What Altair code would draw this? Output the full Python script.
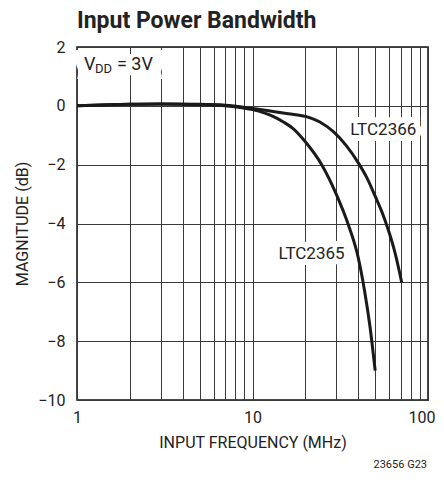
import altair as alt
import pandas as pd

# ---- data ----
f_2366 = [1, 2, 3, 5, 7, 10, 13.1, 16, 20, 24.2, 28.9, 34.4, 40, 44.8, 50, 55, 60, 64.9, 70.8]
db_2366 = [0.0, 0.05, 0.06, 0.05, 0.02, -0.09, -0.19, -0.27, -0.36, -0.55, -0.88, -1.37, -1.93,
           -2.44, -3.07, -3.65, -4.3, -5.0, -6.0]

f_2365 = [1, 2, 3, 5, 7, 10, 13.1, 15, 17.1, 20, 24.8, 30, 35.2, 40, 43.4, 46.7, 50]
db_2365 = [0.0, 0.05, 0.06, 0.04, 0.0, -0.13, -0.36, -0.55, -0.78, -1.22, -2.0, -3.0, -4.05,
           -5.15, -6.25, -7.5, -9.0]

x_grid = [1, 2, 3, 4, 5, 6, 7, 8, 9, 10, 20, 30, 40, 50, 60, 70, 80, 90, 100]
y_ticks = [2, 0, -2, -4, -6, -8, -10]

label_names = ["LTC2366", "LTC2365"]
label_f = [55.6, 21.7]
label_db = [-0.82, -5.03]

vdd_f = [1.096]
vdd_db = [1.21]

FONT = "Roboto, Liberation Sans, sans-serif"

curves = pd.concat([
    pd.DataFrame({"f": f_2366, "db": db_2366, "series": "LTC2366"}),
    pd.DataFrame({"f": f_2365, "db": db_2365, "series": "LTC2365"}),
])
labels = pd.DataFrame({"name": label_names, "f": label_f, "db": label_db})
vdd = pd.DataFrame({"f": vdd_f, "db": vdd_db})

xscale = alt.Scale(type="log", domain=[1, 100])
yscale = alt.Scale(domain=[-10, 2])

label_expr = "(datum.value == 1 || datum.value == 10 || datum.value == 100) ? datum.value : ''"

x_enc = alt.X("f:Q", scale=xscale,
              axis=alt.Axis(values=x_grid, labelExpr=label_expr,
                            title="INPUT FREQUENCY (MHz)", ticks=False, domain=False,
                            grid=True, gridColor="#3a3a3a", gridWidth=1, gridOpacity=1,
                            labelFont=FONT, labelFontSize=16, labelColor="#222",
                            labelPadding=9, titleFont=FONT, titleFontSize=16,
                            titleFontWeight="normal", titleColor="#222", titlePadding=9,
                            labelFlush=False, labelOverlap=False,
                            labelAlign=alt.condition("datum.value >= 100", alt.value("right"),
                                                     alt.value("center")),
                            labelOffset=alt.condition("datum.value >= 100", alt.value(7),
                                                      alt.value(0))))
y_enc = alt.Y("db:Q", scale=yscale,
              axis=alt.Axis(values=y_ticks, format="d", title="MAGNITUDE (dB)",
                            ticks=False, domain=False, grid=True, gridColor="#3a3a3a",
                            gridWidth=1, gridOpacity=1, labelFont=FONT, labelFontSize=16,
                            labelColor="#222", labelPadding=12, titleFont=FONT,
                            titleFontSize=16, titleFontWeight="normal", titleColor="#222",
                            titlePadding=7, labelFlush=False, labelOverlap=False))

lines = alt.Chart(curves).mark_line(color="#1a1a1a", strokeWidth=3, interpolate="monotone").encode(
    x=x_enc, y=y_enc, detail="series:N"
)

halo = alt.Chart(labels).mark_text(font=FONT, fontSize=17, align="center", baseline="middle",
                                   stroke="white", strokeWidth=12, color="white").encode(
    x=alt.X("f:Q", scale=xscale), y=alt.Y("db:Q", scale=yscale), text="name:N"
)
txt = alt.Chart(labels).mark_text(font=FONT, fontSize=17, align="center", baseline="middle",
                                  color="#222").encode(
    x=alt.X("f:Q", scale=xscale), y=alt.Y("db:Q", scale=yscale), text="name:N"
)

vdd_base = alt.Chart(vdd).encode(x=alt.X("f:Q", scale=xscale), y=alt.Y("db:Q", scale=yscale))
vdd_halo = vdd_base.mark_text(font=FONT, fontSize=18, align="left", baseline="alphabetic",
                              stroke="white", strokeWidth=16, color="white", dx=-2, dy=1,
                              text="VDD = 3V  ")
vdd_v = vdd_base.mark_text(font=FONT, fontSize=18, align="left", baseline="alphabetic",
                           color="#222", text="V")
vdd_dd = vdd_base.mark_text(font=FONT, fontSize=13, align="left", baseline="alphabetic",
                            color="#222", text="DD", dx=11, dy=3)
vdd_rest = vdd_base.mark_text(font=FONT, fontSize=18, align="left", baseline="alphabetic",
                              color="#222", text="= 3V", dx=33)

footer = alt.Chart(vdd).mark_text(font=FONT, fontSize=11, align="right", baseline="alphabetic",
                                  color="#222", text="23656 G23").encode(
    x=alt.value(350), y=alt.value(421)
)

chart = alt.layer(halo, vdd_halo, lines, txt, vdd_v, vdd_dd, vdd_rest, footer).properties(
    width=351, height=353,
    autosize=alt.AutoSizeParams(type="none"),
    padding={"left": 69, "top": 39, "right": 8, "bottom": 70},
    title=alt.TitleParams("Input Power Bandwidth", anchor="start", font=FONT, fontSize=23,
                          fontWeight="bold", color="#222", offset=6, frame="group"),
    background="white",
).configure_view(stroke="#111", strokeWidth=1.5)

chart.save("out.html", embed_options={"renderer": "svg", "actions": False})
